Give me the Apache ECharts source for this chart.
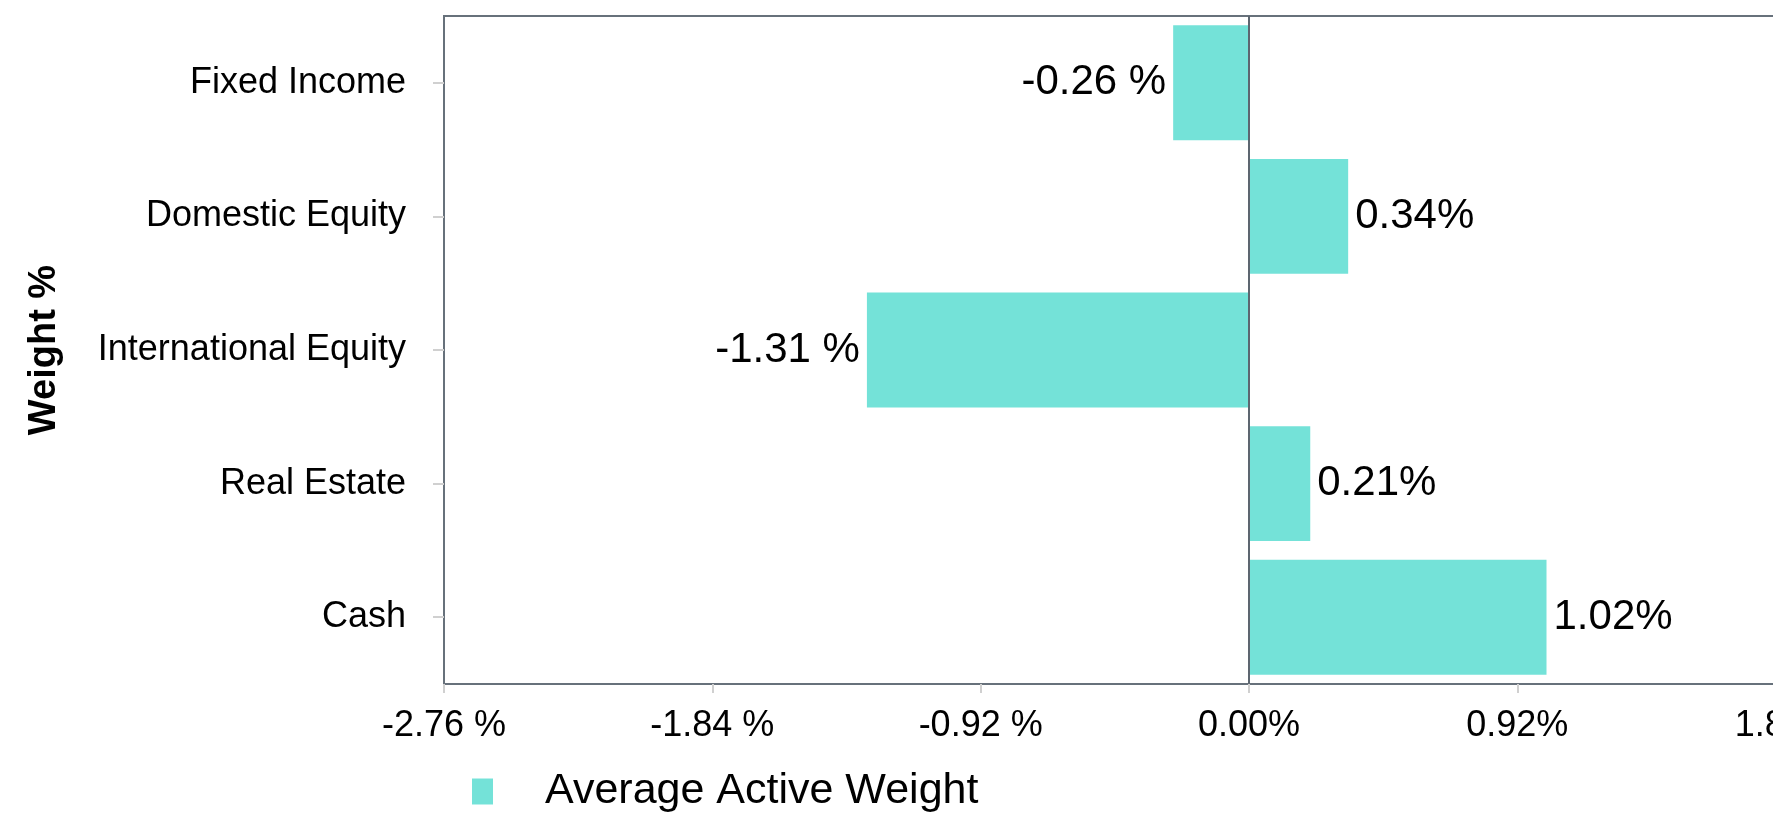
<!DOCTYPE html>
<html>
<head>
<meta charset="utf-8">
<script src="https://cdn.jsdelivr.net/npm/echarts@6/dist/echarts.min.js"></script>
<style>
html,body{margin:0;padding:0;overflow:hidden;background:#fff;}
#chart{width:2200px;height:818px;}
</style>
</head>
<body>
<div id="chart"></div>
<script>
const categories = ['Fixed Income', 'Domestic Equity', 'International Equity', 'Real Estate', 'Cash'];
const activeWeight = [-0.26, 0.34, -1.31, 0.21, 1.02];
const seriesName = 'Average Active Weight';
const axisMin = -2.76, axisMax = 2.76, axisStep = 0.92;

function fmt(v) {
  if (Math.abs(v) < 1e-9) v = 0;
  return v < 0 ? v.toFixed(2) + ' %' : v.toFixed(2) + '%';
}

const chart = echarts.init(document.getElementById('chart'));
chart.setOption({
  animation: false,
  textStyle: { fontFamily: 'Liberation Sans, Arial, sans-serif' },
  grid: { left: 444, right: 146, top: 16, bottom: 134, show: true, borderColor: '#67717b', borderWidth: 2, backgroundColor: '#fff' },
  legend: {
    left: 467, top: 765,
    itemWidth: 21, itemHeight: 26,
    icon: 'rect',
    textStyle: { fontSize: 43, color: '#000', padding: [0, 0, 0, 47], fontFamily: 'Liberation Sans, Arial, sans-serif' },
    data: [seriesName]
  },
  xAxis: {
    type: 'value', min: axisMin, max: axisMax, interval: axisStep,
    axisLine: { show: false, onZero: false },
    axisTick: { show: true, length: 9, lineStyle: { color: '#d0d0d0', width: 2 } },
    splitLine: { show: false },
    axisLabel: { formatter: fmt, fontSize: 36, color: '#000', margin: 24 }
  },
  yAxis: {
    type: 'category', data: categories, inverse: true,
    name: 'Weight %', nameLocation: 'middle', nameRotate: 90, nameGap: 380,
    nameTextStyle: { fontSize: 38, fontWeight: 'bold', color: '#000' },
    axisLine: { show: false, onZero: false },
    axisTick: { show: true, alignWithLabel: true, length: 11, lineStyle: { color: '#d0d0d0', width: 2 } },
    axisLabel: { fontSize: 36, color: '#000', margin: 38 }
  },
  series: [{
    name: seriesName,
    type: 'bar',
    barWidth: '86%',
    itemStyle: { color: '#74e2d8' },
    data: activeWeight.map(v => ({
      value: v,
      label: { show: true, position: v < 0 ? 'left' : 'right', distance: 7, formatter: p => fmt(p.value), fontSize: 42, color: '#000' }
    })),
    markLine: {
      silent: true, symbol: 'none', label: { show: false },
      lineStyle: { color: '#5d6670', width: 2, type: 'solid' },
      data: [{ xAxis: 0 }]
    }
  }]
});
</script>
</body>
</html>
